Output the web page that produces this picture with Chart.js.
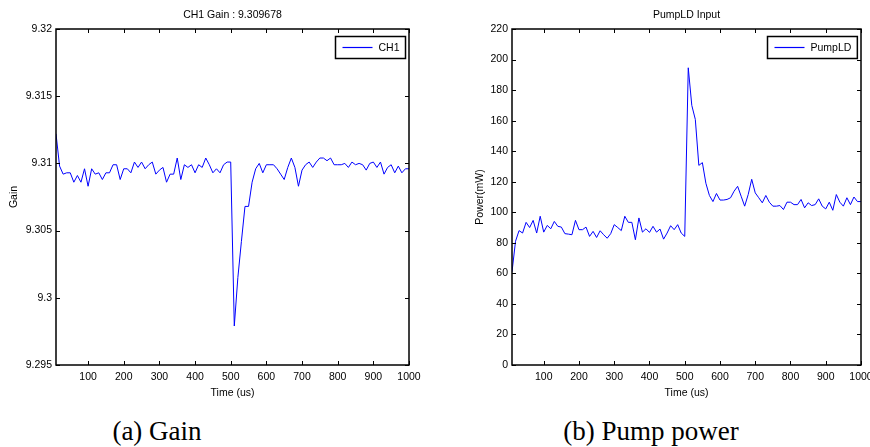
<!DOCTYPE html>
<html>
<head>
<meta charset="utf-8">
<script src="https://cdn.jsdelivr.net/npm/chart.js@4"></script>
<style>
body { margin:0; background:#fff; width:870px; height:447px; position:relative; overflow:hidden; }
canvas { position:absolute; top:0; }
#c1 { left:0; }
#c2 { left:435px; }
.cap { position:absolute; top:418px; line-height:27px; font-family:"Liberation Serif","Times New Roman",serif; font-size:27px; color:#000; white-space:nowrap; transform:translateX(-50%); }
</style>
</head>
<body>
<canvas id="c1" width="430" height="400"></canvas>
<canvas id="c2" width="435" height="400"></canvas>
<div class="cap" style="left:157px">(a) Gain</div>
<div class="cap" style="left:651px">(b) Pump power</div>
<script>
// time axis (us)
var timeUs = [10,20,30,40,50,60,70,80,90,100,110,120,130,140,150,160,170,180,190,200,
  210,220,230,240,250,260,270,280,290,300,310,320,330,340,350,360,370,380,390,400,
  410,420,430,440,450,460,470,480,490,500,510,520,530,540,550,560,570,580,590,600,
  610,620,630,640,650,660,670,680,690,700,710,720,730,740,750,760,770,780,790,800,
  810,820,830,840,850,860,870,880,890,900,910,920,930,940,950,960,970,980,990,1000];

// CH1 gain
var gainCH1 = [9.3122,9.3098,9.3092,9.3093,9.3093,9.3086,9.3091,9.3086,9.3096,9.3083,
  9.3096,9.3092,9.3093,9.3088,9.3093,9.3093,9.3099,9.3099,9.3088,9.3096,
  9.3096,9.3093,9.3101,9.3097,9.3101,9.3096,9.3099,9.3101,9.3092,9.3095,
  9.3097,9.3086,9.3092,9.3092,9.3104,9.3088,9.3099,9.3097,9.3099,9.3093,
  9.3099,9.3097,9.3104,9.3099,9.3093,9.3096,9.3093,9.3099,9.3101,9.3101,
  9.2979,9.3015,9.3042,9.3068,9.3068,9.3086,9.3096,9.3100,9.3093,9.3099,
  9.3099,9.3099,9.3096,9.3092,9.3088,9.3097,9.3104,9.3097,9.3083,9.3095,
  9.3099,9.3101,9.3097,9.3101,9.3104,9.3104,9.3102,9.3104,9.3099,9.3099,
  9.3099,9.3100,9.3097,9.3101,9.3099,9.3100,9.3099,9.3095,9.3100,9.3101,
  9.3097,9.3101,9.3092,9.3097,9.3099,9.3093,9.3098,9.3093,9.3096,9.3096];

// PumpLD power (mW)
var pumpLD = [61,81,88,86.4,93.4,90,94.7,86.4,97.4,87,
  91.4,89.2,94,90.8,90.3,86,85.7,85.3,94.7,88.6,
  88.6,90.3,84.2,87.5,83.5,87.9,85.3,83,86,91.9,
  90,88,97.4,93.4,93.4,82,96.3,87,89.2,86.8,
  90.8,87,89,82.4,86.4,91.2,88.6,91.9,86.4,84.2,
  194.6,170,160.8,130.7,132.5,119,111,107,112.3,108,
  108,108.4,109.5,113.8,117,110.5,104,111.6,121.6,112.7,
  109.5,106.2,111,106.6,104,104,104.4,101.8,106.6,106.6,
  105,105,108.4,102.9,106.2,104.4,105,108.8,104,102.2,
  106.6,101.3,111.6,106.6,104,109.5,105,110,107,107];

var xTicks = [100,200,300,400,500,600,700,800,900,1000];
var gainTicks = [9.295,9.3,9.305,9.31,9.315,9.32];
var pumpTicks = [0,20,40,60,80,100,120,140,160,180,200,220];

var FONT = '"Liberation Sans", Arial, sans-serif';
var f = {family: FONT, size: 10.5, weight: 'normal', lineHeight: 1.2};

// MATLAB style frame: box, inner ticks, legend box in the corner
var matlabFrame = {
  id: 'matlabFrame',
  afterDatasetsDraw: function (chart) {
    var ctx = chart.ctx, a = chart.chartArea, sx = chart.scales.x, sy = chart.scales.y;
    ctx.save();
    ctx.strokeStyle = '#000';
    ctx.lineWidth = 1;
    ctx.beginPath();
    sx.ticks.forEach(function (t) {
      var px = Math.round(sx.getPixelForValue(t.value)) + 0.5;
      ctx.moveTo(px, a.bottom); ctx.lineTo(px, a.bottom - 4);
      ctx.moveTo(px, a.top); ctx.lineTo(px, a.top + 4);
    });
    sy.ticks.forEach(function (t) {
      var py = Math.round(sy.getPixelForValue(t.value)) + 0.5;
      ctx.moveTo(a.left, py); ctx.lineTo(a.left + 4, py);
      ctx.moveTo(a.right, py); ctx.lineTo(a.right - 4, py);
    });
    ctx.stroke();
    ctx.lineWidth = 1.5;
    ctx.strokeRect(a.left, a.top, a.right - a.left, a.bottom - a.top);

    // legend
    var ds = chart.data.datasets[0];
    ctx.font = '10.5px ' + FONT;
    var tw = ctx.measureText(ds.label).width;
    var w = 7 + 30 + 6 + tw + 6, h = 22;
    var bx = Math.round(a.right - 4 - w) + 0.5, by = Math.round(a.top + 7) + 0.5;
    ctx.fillStyle = '#fff';
    ctx.fillRect(bx, by, w, h);
    ctx.lineWidth = 1.5;
    ctx.strokeRect(bx, by, w, h);
    ctx.strokeStyle = ds.borderColor;
    ctx.lineWidth = 1.2;
    ctx.beginPath();
    ctx.moveTo(bx + 7, by + h / 2); ctx.lineTo(bx + 37, by + h / 2);
    ctx.stroke();
    ctx.fillStyle = '#000';
    ctx.textBaseline = 'middle';
    ctx.fillText(ds.label, bx + 43, by + h / 2 + 0.5);
    ctx.restore();
  }
};

function noPad(s) {
  s.paddingLeft = 0; s.paddingRight = 0; s.paddingTop = 0; s.paddingBottom = 0;
}

function makeChart(id, label, values, title, yTitle, yMin, yMax, yTickVals, yWidth, yTitlePad, rightPad) {
  return new Chart(document.getElementById(id), {
    type: 'line',
    data: {
      datasets: [{
        label: label,
        data: timeUs.map(function (t, i) { return {x: t, y: values[i]}; }),
        borderColor: '#0000ff',
        borderWidth: 1,
        pointRadius: 0,
        tension: 0,
        fill: false
      }]
    },
    options: {
      responsive: false,
      animation: false,
      devicePixelRatio: 1,
      layout: {padding: {left: 0, right: rightPad, top: 0, bottom: 0}},
      plugins: {
        legend: {display: false},
        tooltip: {enabled: false},
        title: {
          display: true, text: title, fullSize: false, color: '#000',
          font: f, padding: {top: 9, bottom: 7.4}
        }
      },
      scales: {
        x: {
          type: 'linear', min: 10, max: 1000,
          afterBuildTicks: function (s) { s.ticks = xTicks.map(function (v) { return {value: v}; }); },
          afterFit: function (s) { s.height = 35; noPad(s); },
          grid: {display: false, drawTicks: false},
          border: {display: false},
          ticks: {
            color: '#000', font: f, padding: 6, maxRotation: 0, autoSkip: false,
            callback: function (v) { return String(v); }
          },
          title: {display: true, text: 'Time (us)', color: '#000', font: f, padding: {top: 0, bottom: 1}}
        },
        y: {
          type: 'linear', min: yMin, max: yMax,
          afterBuildTicks: function (s) { s.ticks = yTickVals.map(function (v) { return {value: v}; }); },
          afterFit: function (s) { s.width = yWidth; noPad(s); },
          grid: {display: false, drawTicks: false},
          border: {display: false},
          ticks: {
            color: '#000', font: f, padding: 4, autoSkip: false,
            callback: function (v) { return String(+v.toFixed(3)); }
          },
          title: {display: true, text: yTitle, color: '#000', font: f, padding: {top: yTitlePad, bottom: 0}}
        }
      }
    },
    plugins: [matlabFrame]
  });
}

makeChart('c1', 'CH1', gainCH1, 'CH1 Gain : 9.309678', 'Gain', 9.295, 9.32, gainTicks, 56, 8, 21);
makeChart('c2', 'PumpLD', pumpLD, 'PumpLD Input', 'Power(mW)', 0, 220, pumpTicks, 77, 39, 9);
</script>
</body>
</html>
